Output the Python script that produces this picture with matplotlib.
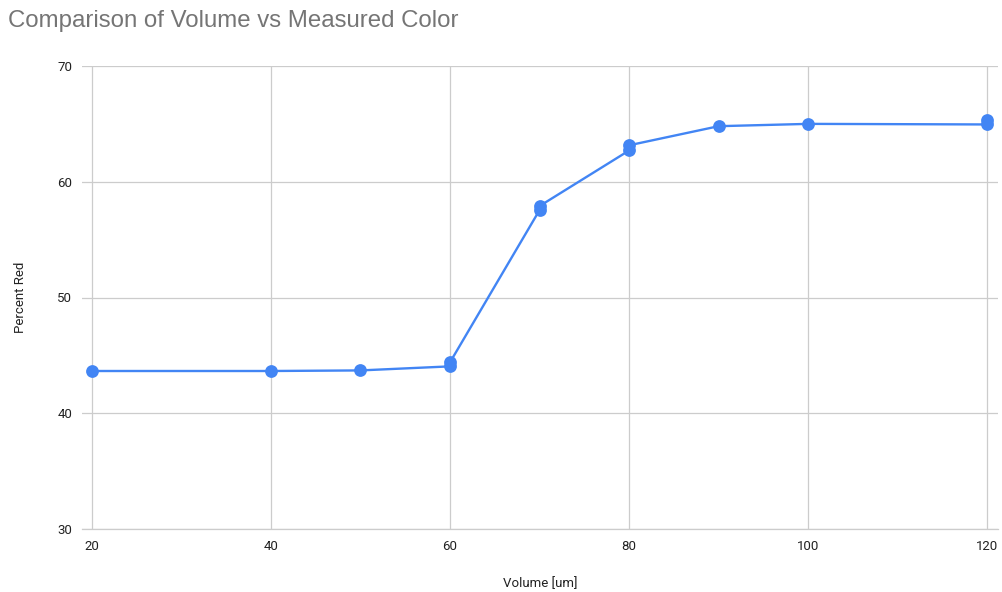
import matplotlib
matplotlib.use('Agg')
import matplotlib.pyplot as plt

# replicate readings of percent red at each volume
volume = [20, 40, 50, 60, 60, 70, 70, 80, 80, 90, 100, 120, 120]
percent_red = [43.65, 43.65, 43.7, 44.05, 44.4, 57.55, 57.9, 62.7, 63.15, 64.8, 65.0, 64.95, 65.35]

x_ticks = [20, 40, 60, 80, 100, 120]
y_ticks = [30, 40, 50, 60, 70]

BLUE = "#4285F4"
GRID = "#cccccc"

plt.rcParams['font.family'] = ['Roboto', 'DejaVu Sans']

fig = plt.figure(figsize=(10.03, 5.92), dpi=100)
ax = fig.add_axes([82 / 1003, 1 - 529 / 592, (998 - 82) / 1003, (529 - 66) / 592])

ax.plot(volume, percent_red, color=BLUE, linewidth=1.7, marker='o',
        markersize=9.2, markeredgewidth=0, zorder=3)

ax.set_xlim(18.9, 121.2)
ax.set_ylim(30, 70)
ax.set_xticks(x_ticks)
ax.set_yticks(y_ticks)
ax.grid(True, color=GRID, linewidth=0.9)
ax.set_axisbelow(True)

for side in ['top', 'right', 'left']:
    ax.spines[side].set_visible(False)
ax.spines['bottom'].set_color(GRID)
ax.spines['bottom'].set_linewidth(0.9)

ax.tick_params(axis='both', length=0, labelsize=9.5, labelcolor="#222222")
ax.tick_params(axis='x', pad=8)
ax.tick_params(axis='y', pad=7)

ax.set_xlabel("Volume [um]", fontsize=9.5, color="#222222", labelpad=17)
ax.set_ylabel("Percent Red", fontsize=9.5, color="#222222", labelpad=22)

fig.text(8 / 1003, 1 - 21 / 592, "Comparison of Volume vs Measured Color",
         fontsize=17.3, color="#757575", va='center', ha='left',
         family=['Liberation Sans', 'DejaVu Sans'])

fig.savefig("out.png", dpi=100)
